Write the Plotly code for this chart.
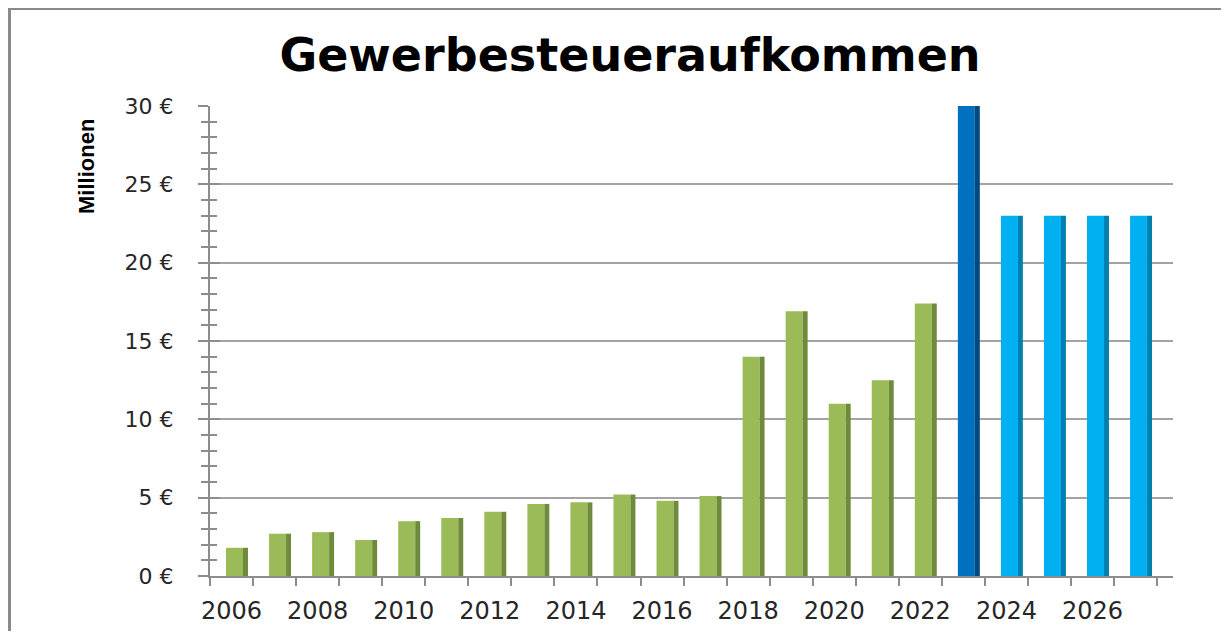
import plotly.graph_objects as go

years = list(range(2006, 2028))
values = [1.8, 2.7, 2.8, 2.3, 3.5, 3.7, 4.1, 4.6, 4.7, 5.2, 4.8, 5.1,
          14.0, 16.9, 11.0, 12.5, 17.4, 30.0, 23.0, 23.0, 23.0, 23.0]
front_colors = ["#9BBB59"] * 17 + ["#0070C0"] + ["#00B0F0"] * 4
side_colors = ["#6E8A3A"] * 17 + ["#004A80"] + ["#0080AE"] * 4
x_tickvals = list(range(2006, 2028, 2))
x_ticktext = [str(v) for v in x_tickvals]
y_tickvals = [0, 5, 10, 15, 20, 25, 30]
y_ticktext = [f"{v} €" for v in y_tickvals]
title_text = "Gewerbesteueraufkommen"
y_title = "Millionen"

# page has an 8px body margin; work in page pixels and convert
OFF = 8
W, H = 1229 - 2 * OFF, 639 - 2 * OFF
PLOT_L, PLOT_R, PLOT_T, PLOT_B = 210, 1173, 106, 576  # page pixels
L = PLOT_L - OFF
R = W - (PLOT_R - OFF)
T = PLOT_T - OFF
B = H - (PLOT_B - OFF)
PW, PH = W - L - R, H - T - B
CAT_PX = 43.05
x_max = 2005.5 + (PLOT_R - PLOT_L) / CAT_PX


def px_x(p):
    return (p - OFF - L) / PW


def px_y(p):
    return (H - B - (p - OFF)) / PH


fig = go.Figure()
fig.add_trace(go.Bar(x=years, y=values, width=0.395, offset=-0.128,
                     marker=dict(color=front_colors, line=dict(width=0)),
                     hoverinfo="x+y", showlegend=False))
fig.add_trace(go.Bar(x=years, y=values, width=0.115, offset=0.267,
                     marker=dict(color=side_colors, line=dict(width=0)),
                     hoverinfo="skip", showlegend=False))

grid = "#A3A3A3"
axc = "#8C8C8C"
fig.update_layout(
    width=W, height=H,
    margin=dict(l=L, r=R, t=T, b=B, autoexpand=False),
    paper_bgcolor="white", plot_bgcolor="white",
    barmode="overlay",
    title=dict(text=title_text, x=(630 - OFF) / W, xanchor="center",
               y=1 - (55 - OFF) / H, yanchor="middle",
               font=dict(family="DejaVu Sans", size=46, color="black", weight="bold")),
    xaxis=dict(range=[2005.5, x_max], tickvals=x_tickvals, ticktext=x_ticktext,
               automargin=False,
               ticks="", showgrid=False, zeroline=False,
               showline=True, linecolor=axc, linewidth=2,
               tickfont=dict(family="DejaVu Sans", size=24, color="#262626"),
               ticklabelstandoff=12,
               minor=dict(tick0=2005.5, dtick=1, ticks="outside", ticklen=8,
                          tickwidth=2, tickcolor=axc, showgrid=False)),
    yaxis=dict(range=[0, 30], tickvals=y_tickvals, ticktext=y_ticktext,
               automargin=False,
               ticks="outside", ticklen=10, tickwidth=2, tickcolor=axc,
               showgrid=True, gridcolor=grid, gridwidth=2, zeroline=False,
               showline=True, linecolor=axc, linewidth=2,
               tickfont=dict(family="DejaVu Sans", size=22, color="#262626"),
               ticklabelstandoff=20,
               minor=dict(dtick=1, ticks="outside", ticklen=7, tickwidth=2,
                          tickcolor=axc, showgrid=False)),
    yaxis2=dict(range=[0, 30], overlaying="y", side="left", tickvals=y_tickvals,
                automargin=False,
                ticks="inside", ticklen=10, tickwidth=2, tickcolor=axc,
                showticklabels=False, showgrid=False, zeroline=False,
                showline=False,
                minor=dict(dtick=1, ticks="inside", ticklen=7, tickwidth=2,
                           tickcolor=axc, showgrid=False)),
    annotations=[dict(text=y_title, textangle=-90, xref="paper", yref="paper",
                      x=px_x(86), y=px_y(167), xanchor="center", yanchor="middle",
                      showarrow=False,
                      font=dict(family="Liberation Sans Narrow, Liberation Sans",
                                size=22, color="black", weight="bold"))],
    shapes=[dict(type="rect", xref="paper", yref="paper",
                 x0=px_x(9.5), x1=px_x(1260), y0=px_y(700), y1=px_y(8.5),
                 line=dict(color="#8A8A8A", width=3), layer="below")],
)
# invisible trace to activate the inner-tick overlay axis
fig.add_trace(go.Scatter(x=[years[0]], y=[0], yaxis="y2", mode="markers",
                         marker=dict(opacity=0), hoverinfo="skip", showlegend=False))

fig.write_html("out.html")
